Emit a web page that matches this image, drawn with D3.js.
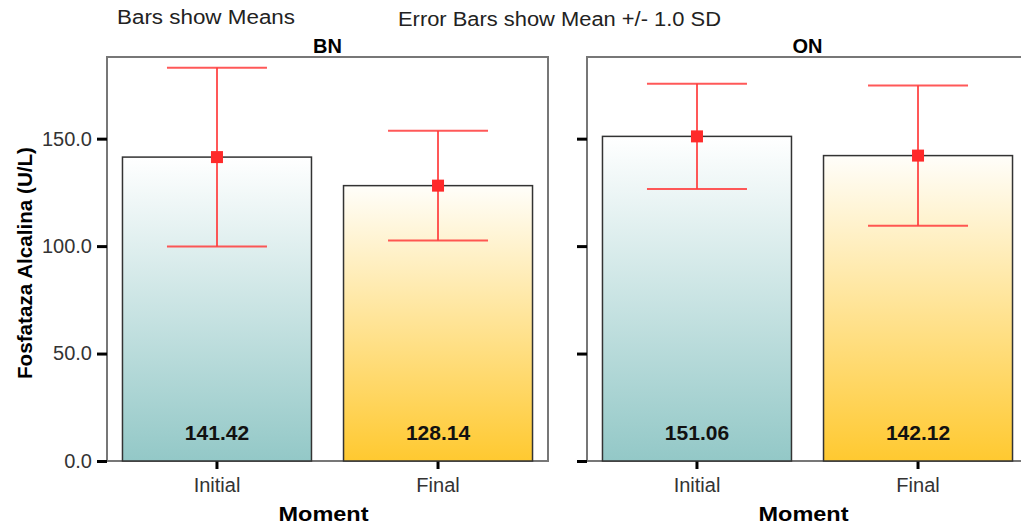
<!DOCTYPE html>
<html>
<head>
<meta charset="utf-8">
<script src="https://cdn.jsdelivr.net/npm/d3@7"></script>
<style>
  body { margin: 0; background: #fff; }
  text { font-family: "Liberation Sans", Arial, sans-serif; }
</style>
</head>
<body>
<div id="chart"></div>
<script>
// Chart values
const panels = ["BN", "ON"];
const moments = ["Initial", "Final"];
const means = [[141.42, 128.14], [151.06, 142.12]];
const sds = [[41.6, 25.5], [24.5, 32.6]];
const yTicks = [0, 50, 100, 150];

const width = 1021, height = 524;
const svg = d3.select("#chart").append("svg")
    .attr("width", width)
    .attr("height", height);

// Gradients for the two moments
const defs = svg.append("defs");
const gradColors = {Initial: ["#ffffff", "#93c8c7"], Final: ["#fffefa", "#ffc930"]};
moments.forEach(m => {
    const g = defs.append("linearGradient")
        .attr("id", "grad" + m)
        .attr("x1", 0).attr("y1", 0).attr("x2", 0).attr("y2", 1);
    g.append("stop").attr("offset", "0%").attr("stop-color", gradColors[m][0]);
    g.append("stop").attr("offset", "100%").attr("stop-color", gradColors[m][1]);
});

const panelLeft = [107, 587];
const panelWidth = 441;
const plotTop = 57, plotBottom = 461;

const y = d3.scaleLinear().domain([0, 188]).range([plotBottom, plotTop]);

// Header texts
svg.append("text").attr("x", 117).attr("y", 24)
    .attr("textLength", 178).attr("lengthAdjust", "spacingAndGlyphs")
    .style("font-size", "20px").attr("fill", "#222")
    .text("Bars show Means");
svg.append("text").attr("x", 398).attr("y", 26)
    .attr("textLength", 323).attr("lengthAdjust", "spacingAndGlyphs")
    .style("font-size", "20px").attr("fill", "#222")
    .text("Error Bars show Mean +/- 1.0 SD");

// Y axis label
svg.append("text")
    .attr("transform", "rotate(-90)")
    .attr("x", -263).attr("y", 32)
    .attr("textLength", 232).attr("lengthAdjust", "spacingAndGlyphs")
    .style("text-anchor", "middle")
    .style("font-size", "20px").style("font-weight", "bold")
    .text("Fosfataza Alcalina (U/L)");

panels.forEach((p, pi) => {
    const x0 = panelLeft[pi];
    const x = d3.scaleBand()
        .domain(moments)
        .range([x0, x0 + panelWidth])
        .paddingInner(0.145)
        .paddingOuter(0.07);

    const g = svg.append("g");

    // Panel title
    g.append("text")
        .attr("x", x0 + panelWidth / 2).attr("y", 53)
        .style("text-anchor", "middle")
        .style("font-size", "20px").style("font-weight", "bold")
        .text(p);

    // Frame
    g.append("rect")
        .attr("x", x0).attr("y", plotTop)
        .attr("width", panelWidth).attr("height", plotBottom - plotTop)
        .attr("fill", "none").attr("stroke", "#777").attr("stroke-width", 2);

    // Y axis
    const yAxis = d3.axisLeft(y).tickValues(yTicks).tickFormat(d3.format(".1f")).tickSize(10);
    const ya = g.append("g").attr("transform", `translate(${x0},0)`).call(yAxis);
    ya.select(".domain").remove();
    ya.selectAll(".tick line").attr("stroke", "#000").attr("stroke-width", 3);
    ya.selectAll(".tick text").attr("x", -15)
        .style("font-size", "20px").attr("fill", "#333")
        .style("font-family", "Liberation Sans, Arial, sans-serif");
    if (pi === 1) ya.selectAll(".tick text").remove();

    // X axis
    const xAxis = d3.axisBottom(x).tickSize(8).tickPadding(9);
    const xa = g.append("g").attr("transform", `translate(0,${plotBottom})`).call(xAxis);
    xa.select(".domain").remove();
    xa.selectAll(".tick line").attr("stroke", "#000").attr("stroke-width", 3);
    xa.selectAll(".tick text")
        .style("font-size", "20px").attr("fill", "#333")
        .style("font-family", "Liberation Sans, Arial, sans-serif");

    // X axis title
    g.append("text")
        .attr("x", x0 + panelWidth / 2 - 4).attr("y", 521)
        .attr("textLength", 90).attr("lengthAdjust", "spacingAndGlyphs")
        .style("text-anchor", "middle")
        .style("font-size", "20px").style("font-weight", "bold")
        .text("Moment");

    const rows = moments.map((m, i) => ({m: m, mean: means[pi][i], sd: sds[pi][i]}));

    // Bars
    g.selectAll(".bar").data(rows).enter().append("rect")
        .attr("class", "bar")
        .attr("x", d => x(d.m))
        .attr("y", d => y(d.mean))
        .attr("width", x.bandwidth())
        .attr("height", d => y(0) - y(d.mean))
        .attr("fill", d => "url(#grad" + d.m + ")")
        .attr("stroke", "#333").attr("stroke-width", 1.5);

    // Value labels
    g.selectAll(".val").data(rows).enter().append("text")
        .attr("x", d => x(d.m) + x.bandwidth() / 2)
        .attr("y", 440)
        .style("text-anchor", "middle")
        .style("font-size", "21px").style("font-weight", "bold")
        .attr("fill", "#111")
        .text(d => d.mean.toFixed(2));

    // Error bars
    const cap = 50;
    const eb = g.selectAll(".err").data(rows).enter().append("g")
        .attr("stroke", "#ff3b3b").attr("stroke-width", 2).attr("stroke-opacity", 0.85);
    eb.append("line")
        .attr("x1", d => x(d.m) + x.bandwidth() / 2).attr("x2", d => x(d.m) + x.bandwidth() / 2)
        .attr("y1", d => y(d.mean + d.sd)).attr("y2", d => y(d.mean - d.sd));
    eb.append("line")
        .attr("x1", d => x(d.m) + x.bandwidth() / 2 - cap).attr("x2", d => x(d.m) + x.bandwidth() / 2 + cap)
        .attr("y1", d => y(d.mean + d.sd)).attr("y2", d => y(d.mean + d.sd));
    eb.append("line")
        .attr("x1", d => x(d.m) + x.bandwidth() / 2 - cap).attr("x2", d => x(d.m) + x.bandwidth() / 2 + cap)
        .attr("y1", d => y(d.mean - d.sd)).attr("y2", d => y(d.mean - d.sd));

    // Mean markers
    g.selectAll(".mk").data(rows).enter().append("rect")
        .attr("x", d => x(d.m) + x.bandwidth() / 2 - 6)
        .attr("y", d => y(d.mean) - 6)
        .attr("width", 12).attr("height", 12)
        .attr("fill", "#ff2a2a");
});
</script>
</body>
</html>
